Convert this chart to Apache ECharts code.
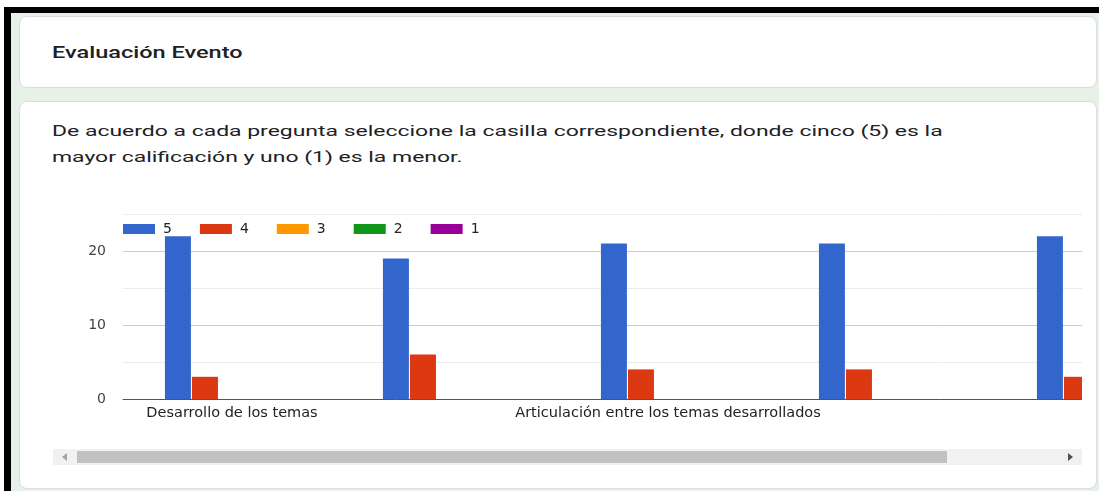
<!DOCTYPE html>
<html lang="es">
<head>
<meta charset="utf-8">
<title>Evaluación Evento</title>
<script src="https://cdn.jsdelivr.net/npm/echarts@6/dist/echarts.min.js"></script>
<style>
  html, body { margin: 0; padding: 0; background: #fff; }
  body { width: 1099px; height: 491px; overflow: hidden; position: relative; }
  #frame {
    position: absolute; left: 4px; top: 7px; right: -10px; bottom: -10px;
    border-left: 7px solid #000; border-top: 6px solid #000;
    background: #e7f1e8;
  }
  .card {
    position: absolute; left: 19px; width: 1078px;
    background: #fff; border: 1px solid #dadce0; border-radius: 8px;
    box-sizing: border-box;
  }
  #head { top: 16px; height: 72px; }
  #body { top: 101px; height: 388px; }
  .txt { position: absolute; left: 52px; white-space: nowrap; transform-origin: 0 0; color: #202124; }
  #title { top: 43px; font: 500 16px Roboto, sans-serif; transform: scaleX(1.47); }
  #desc { top: 118px; font: 400 15.5px/26px Roboto, sans-serif; transform: scaleX(1.48); }
  #viewport { position: absolute; left: 53px; top: 200px; width: 1029px; height: 245px; overflow: hidden; }
  #chart { width: 1160px; height: 245px; }
  #track { position: absolute; left: 53px; top: 449px; width: 1029px; height: 16px; background: #f1f1f1; }
  #thumb { position: absolute; left: 24px; top: 2px; height: 12px; background: #c1c1c1; }
  .arrow { position: absolute; top: 4px; width: 0; height: 0; border-top: 4px solid transparent; border-bottom: 4px solid transparent; }
  #arrowL { left: 9px; border-right: 5px solid #a3a3a3; }
  #arrowR { right: 9px; border-left: 5px solid #505050; }
</style>
</head>
<body>
<div id="frame"></div>
<div class="card" id="head"></div>
<div class="card" id="body"></div>
<div class="txt" id="title">Evaluación Evento</div>
<div class="txt" id="desc">De acuerdo a cada pregunta seleccione la casilla correspondiente, donde cinco (5) es la<br>mayor calificación y uno (1) es la menor.</div>
<div id="viewport"><div id="chart"></div></div>
<div id="track"><div class="arrow" id="arrowL"></div><div id="thumb"></div><div class="arrow" id="arrowR"></div></div>
<script>
// Questions of the event survey (one column group per question)
const categories = [
  'Desarrollo de los temas',
  'Metodología utilizada',
  'Articulación entre los temas desarrollados',
  'Dominio de los temas por parte del expositor',
  'Material de apoyo'
];
// Rating levels, highest first
const ratings = ['5', '4', '3', '2', '1'];
// Number of answers for each rating, per question
const votes5 = [22, 19, 21, 21, 22];
const votes4 = [3, 6, 4, 4, 3];
const votes3 = [0, 0, 0, 0, 0];
const votes2 = [0, 0, 0, 0, 0];
const votes1 = [0, 0, 0, 0, 0];
const yTicks = [0, 10, 20];

const palette = ['#3366cc', '#dc3912', '#ff9900', '#109618', '#990099'];
const seriesValues = [votes5, votes4, votes3, votes2, votes1];
const FONT = 'DejaVu Sans';

const chart = echarts.init(document.getElementById('chart'), null, { renderer: 'canvas' });
chart.setOption({
  animation: false,
  color: palette,
  textStyle: { fontFamily: FONT },
  legend: {
    left: 70, top: 22, padding: 0,
    itemWidth: 32, itemHeight: 10, itemGap: 28,
    icon: 'rect',
    textStyle: { fontFamily: FONT, fontSize: 14, color: '#222', padding: [0, 0, 0, 3] },
    data: ratings
  },
  grid: { left: 70, right: 0, top: 14, bottom: 46, containLabel: false },
  xAxis: {
    type: 'category',
    data: categories,
    axisTick: { show: false },
    axisLine: { lineStyle: { color: '#555', width: 1 } },
    axisLabel: {
      fontFamily: FONT, fontSize: 14.5, color: '#222', margin: 7,
      // every other question; the last one lies past the scroll window
      interval: (i) => i % 2 === 0 && i < categories.length - 1
    }
  },
  yAxis: {
    type: 'value',
    min: 0, max: 25, interval: 5,
    axisLine: { show: false },
    axisTick: { show: false },
    axisLabel: {
      fontFamily: FONT, fontSize: 14, color: '#444', margin: 17,
      formatter: (v) => (yTicks.indexOf(v) >= 0 ? String(v) : '')
    },
    splitLine: { lineStyle: { color: ['#cccccc', '#ebebeb'], width: 1 } }
  },
  series: ratings.map((r, k) => ({
    name: r,
    type: 'bar',
    data: seriesValues[k],
    barWidth: 26,
    barGap: '4%',
    itemStyle: { color: palette[k] }
  }))
});

// Scrollbar thumb sized from the visible share of the chart
const vp = document.getElementById('viewport');
const inner = document.getElementById('chart');
const track = document.getElementById('track');
const thumb = document.getElementById('thumb');
const room = track.clientWidth - 48;
thumb.style.width = Math.round(room * vp.clientWidth / inner.clientWidth) + 'px';
</script>
</body>
</html>
